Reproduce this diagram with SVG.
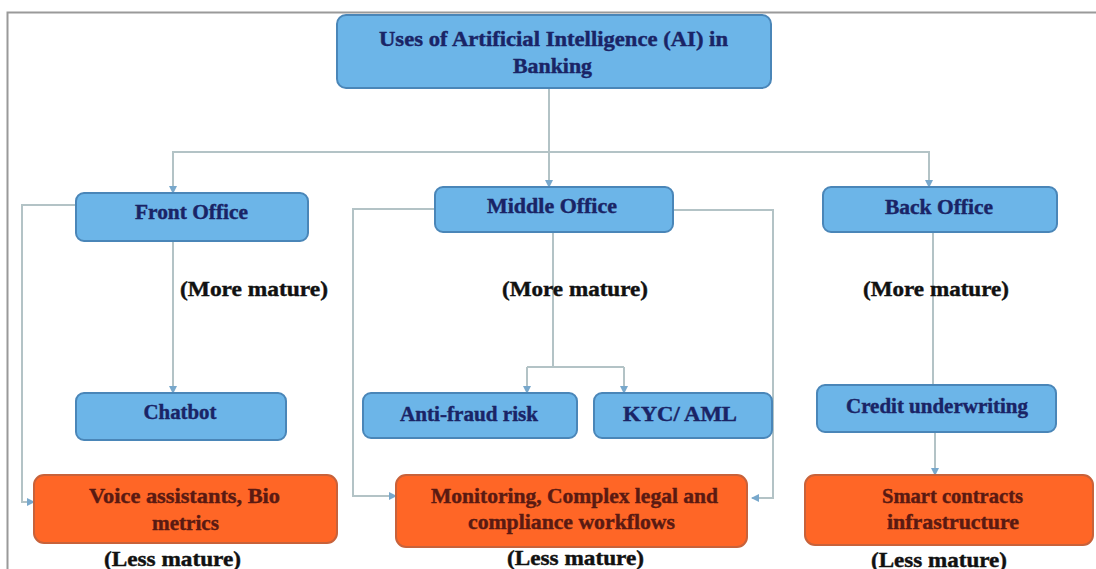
<svg xmlns="http://www.w3.org/2000/svg" width="1096" height="569" viewBox="0 0 1096 569">
  <style>
    .blue { fill: #6cb5e8; stroke: #4a86b8; stroke-width: 2; }
    .orange { fill: #ff6626; stroke: #c8623a; stroke-width: 2; }
    text { font-family: "Liberation Serif", "Times New Roman", serif; font-weight: bold; font-size: 20px; text-anchor: middle; stroke-width: 0.4; }
    .tb { fill: #1a2466; stroke: #1a2466; }
    .to { fill: #5a1a12; stroke: #5a1a12; }
    .tl { fill: #111111; stroke: #111111; }
    .conn { fill: none; stroke: #b3c3c6; stroke-width: 2; }
    .frame { fill: none; stroke: #9a9a9a; stroke-width: 2; }
  </style>
  <defs>
    <marker id="arr" markerWidth="8" markerHeight="8" refX="7" refY="4" orient="auto" markerUnits="userSpaceOnUse">
      <path d="M0,0 L8,4 L0,8 Z" fill="#78a8cc"/>
    </marker>
  </defs>
  <rect width="1096" height="569" fill="#ffffff"/>
  <path class="frame" d="M7.5,569 V12.5 H1096"/>

  <g id="connectors">
    <path class="conn" d="M549,88 V152 H173 V193" marker-end="url(#arr)"/>
    <path class="conn" d="M549,152 V187" marker-end="url(#arr)"/>
    <path class="conn" d="M549,152 H929 V187" marker-end="url(#arr)"/>
    <path class="conn" d="M173,241 V393" marker-end="url(#arr)"/>
    <path class="conn" d="M76,205 H22 V502 H34" marker-end="url(#arr)"/>
    <path class="conn" d="M553,232 V367"/>
    <path class="conn" d="M527,367 H624"/>
    <path class="conn" d="M527,367 V393" marker-end="url(#arr)"/>
    <path class="conn" d="M624,367 V393" marker-end="url(#arr)"/>
    <path class="conn" d="M435,209 H353 V496 H396" marker-end="url(#arr)"/>
    <path class="conn" d="M673,210 H773 V498 H752" marker-end="url(#arr)"/>
    <path class="conn" d="M933,232 V385"/>
    <path class="conn" d="M935,432 V475" marker-end="url(#arr)"/>
  </g>

  <g id="root">
    <rect class="blue" x="337" y="15" width="434" height="73" rx="9"/>
    <text class="tb" x="553.5" y="46" textLength="349" lengthAdjust="spacingAndGlyphs">Uses of Artificial Intelligence (AI) in</text>
    <text class="tb" x="552.5" y="73" textLength="79" lengthAdjust="spacingAndGlyphs">Banking</text>
  </g>

  <g id="front-office">
    <rect class="blue" x="76" y="193" width="232" height="48" rx="8"/>
    <text class="tb" x="191.5" y="219" textLength="113" lengthAdjust="spacingAndGlyphs">Front Office</text>
  </g>
  <g id="middle-office">
    <rect class="blue" x="435" y="187" width="238" height="45" rx="8"/>
    <text class="tb" x="552" y="213" textLength="130" lengthAdjust="spacingAndGlyphs">Middle Office</text>
  </g>
  <g id="back-office">
    <rect class="blue" x="823" y="187" width="234" height="45" rx="8"/>
    <text class="tb" x="939" y="214" textLength="108" lengthAdjust="spacingAndGlyphs">Back Office</text>
  </g>

  <g id="label-more-1">
    <text class="tl" x="254" y="296" textLength="148" lengthAdjust="spacingAndGlyphs">(More mature)</text>
  </g>
  <g id="label-more-2">
    <text class="tl" x="575" y="296" textLength="146" lengthAdjust="spacingAndGlyphs">(More mature)</text>
  </g>
  <g id="label-more-3">
    <text class="tl" x="936" y="296" textLength="146" lengthAdjust="spacingAndGlyphs">(More mature)</text>
  </g>

  <g id="chatbot">
    <rect class="blue" x="76" y="393" width="210" height="47" rx="8"/>
    <text class="tb" x="180" y="419" textLength="73" lengthAdjust="spacingAndGlyphs">Chatbot</text>
  </g>
  <g id="anti-fraud">
    <rect class="blue" x="363" y="393" width="214" height="45" rx="8"/>
    <text class="tb" x="469" y="421" textLength="138" lengthAdjust="spacingAndGlyphs">Anti-fraud risk</text>
  </g>
  <g id="kyc-aml">
    <rect class="blue" x="594" y="393" width="178" height="45" rx="8"/>
    <text class="tb" x="680" y="421" textLength="114" lengthAdjust="spacingAndGlyphs">KYC/ AML</text>
  </g>
  <g id="credit-underwriting">
    <rect class="blue" x="817" y="385" width="239" height="47" rx="8"/>
    <text class="tb" x="937" y="413" textLength="182" lengthAdjust="spacingAndGlyphs">Credit underwriting</text>
  </g>

  <g id="voice-assistants">
    <rect class="orange" x="34" y="475" width="303" height="68" rx="10"/>
    <text class="to" x="184.5" y="503" textLength="191" lengthAdjust="spacingAndGlyphs">Voice assistants, Bio</text>
    <text class="to" x="185.5" y="530" textLength="67" lengthAdjust="spacingAndGlyphs">metrics</text>
  </g>
  <g id="monitoring">
    <rect class="orange" x="396" y="475" width="351" height="72" rx="10"/>
    <text class="to" x="574.5" y="503" textLength="287" lengthAdjust="spacingAndGlyphs">Monitoring, Complex legal and</text>
    <text class="to" x="571.5" y="529" textLength="207" lengthAdjust="spacingAndGlyphs">compliance workflows</text>
  </g>
  <g id="smart-contracts">
    <rect class="orange" x="805" y="475" width="288" height="70" rx="10"/>
    <text class="to" x="952.5" y="503" textLength="141" lengthAdjust="spacingAndGlyphs">Smart contracts</text>
    <text class="to" x="953" y="529" textLength="132" lengthAdjust="spacingAndGlyphs">infrastructure</text>
  </g>

  <g id="label-less-1">
    <text class="tl" x="172.5" y="566" textLength="137" lengthAdjust="spacingAndGlyphs">(Less mature)</text>
  </g>
  <g id="label-less-2">
    <text class="tl" x="575.5" y="565" textLength="137" lengthAdjust="spacingAndGlyphs">(Less mature)</text>
  </g>
  <g id="label-less-3">
    <text class="tl" x="939" y="567" textLength="136" lengthAdjust="spacingAndGlyphs">(Less mature)</text>
  </g>
</svg>
